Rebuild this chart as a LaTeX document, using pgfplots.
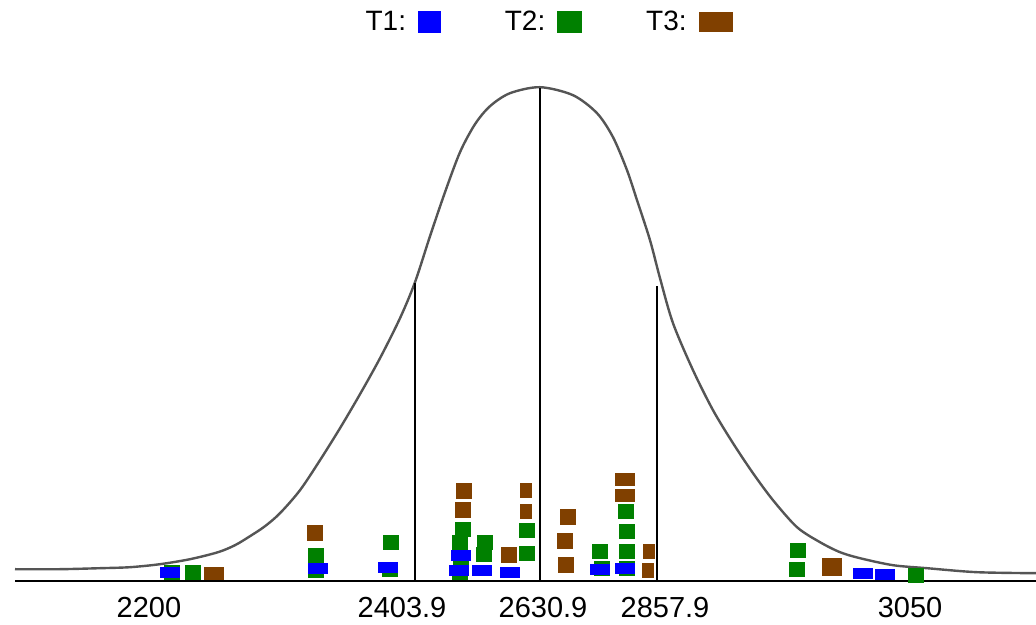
\documentclass[border=0pt]{standalone}
\usepackage{pgfplots}
\pgfplotsset{compat=1.18}
\usepackage{fontspec}
\setmainfont{Liberation Sans}

\definecolor{t1}{RGB}{0,0,255}
\definecolor{t2}{RGB}{0,128,0}
\definecolor{t3}{RGB}{128,64,0}
\definecolor{curve}{RGB}{85,85,85}

% rectangular markers
\pgfdeclareplotmark{boxA}{\pgfpathrectangle{\pgfpoint{-5pt}{-2.8pt}}{\pgfpoint{10pt}{5.6pt}}\pgfusepathqfill}
\pgfdeclareplotmark{boxB}{\pgfpathrectangle{\pgfpoint{-3.8pt}{-3.8pt}}{\pgfpoint{7.6pt}{7.6pt}}\pgfusepathqfill}
\pgfdeclareplotmark{boxC}{\pgfpathrectangle{\pgfpoint{-4pt}{-4pt}}{\pgfpoint{8pt}{8pt}}\pgfusepathqfill}
\pgfdeclareplotmark{boxD}{\pgfpathrectangle{\pgfpoint{-4.8pt}{-3.2pt}}{\pgfpoint{9.6pt}{6.4pt}}\pgfusepathqfill}
\pgfdeclareplotmark{boxE}{\pgfpathrectangle{\pgfpoint{-5pt}{-4.5pt}}{\pgfpoint{10pt}{9pt}}\pgfusepathqfill}
\pgfdeclareplotmark{boxF}{\pgfpathrectangle{\pgfpoint{-3pt}{-3.8pt}}{\pgfpoint{6pt}{7.6pt}}\pgfusepathqfill}

\begin{document}
\begin{tikzpicture}
\begin{axis}[
  width=518pt, height=312pt, scale only axis,
  xmin=0, xmax=1036, ymin=-44, ymax=580,
  axis line style={draw=none},
  major tick length=0pt,
  ytick=\empty,
  xtick={149,402,543,665,910},
  xticklabels={2200,2403.9,2630.9,2857.9,3050},
  xticklabel style={anchor=center, yshift=8.5pt, font=\fontsize{14.5}{16}\selectfont},
  legend plot pos=right,
  legend columns=3,
  legend style={at={(0.528,0.965)}, anchor=center, draw=none, fill=none,
    font=\fontsize{14}{16}\selectfont,
    /tikz/every odd column/.append style={column sep=4pt},
    /tikz/every even column/.append style={column sep=30pt}},
]
\addlegendimage{legend image code/.code={\fill[t1] (0pt,-5.2pt) rectangle (11pt,5.2pt);}}
\addlegendentry{T1:}
\addlegendimage{legend image code/.code={\fill[t2] (0pt,-5.2pt) rectangle (12pt,5.2pt);}}
\addlegendentry{T2:}
\addlegendimage{legend image code/.code={\fill[t3] (0pt,-4.8pt) rectangle (16.5pt,4.8pt);}}
\addlegendentry{T3:}

% baseline
\addplot[black, line width=1pt, forget plot] coordinates {(15,-1) (1036,-1)};

% bell curve
\addplot[curve, line width=1.2pt, smooth, forget plot] coordinates {
(15,11) (60,11) (100,12) (130,13) (160,16) (190,21) (218,28) (235,35)
(250,44) (265,54) (280,67) (300,90) (320,120) (340,152) (360,186)
(380,222) (400,262) (415,298) (430,344) (445,388) (460,428) (475,456)
(490,474) (510,487) (540,493) (573,485) (597,467) (613,443) (627,410)
(637,380) (650,340) (660,302) (673,257) (693,210) (713,170) (733,137)
(753,107) (773,80) (797,53) (820,38) (840,28) (860,22) (893,15)
(927,12) (977,8) (1036,7)};

% mean and +-1 sd lines
\addplot[black, line width=0.9pt, forget plot] coordinates {(415,-1) (415,297)};
\addplot[black, line width=0.9pt, forget plot] coordinates {(540,-1) (540,492)};
\addplot[black, line width=0.9pt, forget plot] coordinates {(657,-1) (657,294)};

% T2
\addplot[only marks, mark=boxB, t2, forget plot] coordinates {
(172,8) (193,8) (316,25) (316,10) (391,38) (390,11) (463,51) (460,38)
(461,23) (460,8) (485,38) (484,26) (527,50) (527,27) (600,29) (602,12)
(626,69) (627,49) (627,29) (627,12) (798,30) (797,11) (916,5)};
% T3
\addplot[only marks, mark=boxC, t3, forget plot] coordinates {
(315,47) (464,89) (463,70) (509,25) (568,63) (565,39) (566,15)};
\addplot[only marks, mark=boxD, t3, forget plot] coordinates {
(214,7) (625,101) (625,85)};
\addplot[only marks, mark=boxE, t3, forget plot] coordinates {(832,13)};
\addplot[only marks, mark=boxF, t3, forget plot] coordinates {
(526,90) (526,69) (649,29) (648,10)};
% T1
\addplot[only marks, mark=boxA, t1, forget plot] coordinates {
(170,8) (318,12) (388,13) (461,25) (459,10) (482,10) (510,8) (600,11)
(625,12) (863,7) (885,6)};
\end{axis}
\end{tikzpicture}
\end{document}
